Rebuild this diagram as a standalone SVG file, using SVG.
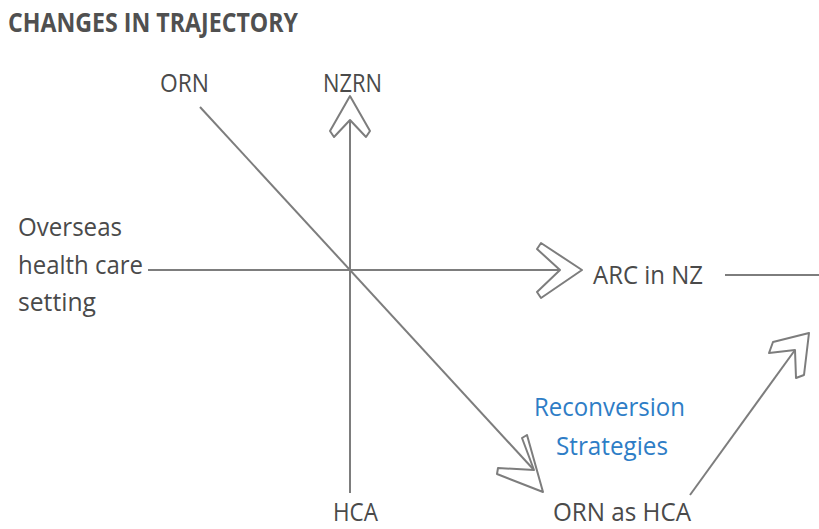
<svg xmlns="http://www.w3.org/2000/svg" width="819" height="529" viewBox="0 0 819 529">
<style>
text{font-family:"Open Sans","Noto Sans","DejaVu Sans",sans-serif;font-size:26px;fill:#4a4a4a}
.title{font-weight:bold;font-size:27px;fill:#505050}
.blue{fill:#2e7dc6}
.ln{stroke:#7d7d7d;stroke-width:2;fill:none}
.ah{stroke:#7d7d7d;stroke-width:2;fill:#fff;stroke-linejoin:round}
</style>
<rect width="819" height="529" fill="#fff"/>
<text class="title" x="8" y="32" textLength="290" lengthAdjust="spacingAndGlyphs">CHANGES IN TRAJECTORY</text>
<g id="connectors">
<line class="ln" x1="350" y1="120" x2="350" y2="493"/>
<line class="ln" x1="148" y1="270" x2="560" y2="270"/>
<line class="ln" x1="200" y1="107" x2="534" y2="470"/>
<line class="ln" x1="690" y1="495" x2="795" y2="350"/>
<line class="ln" x1="725" y1="275" x2="819" y2="275"/>
<polygon class="ah" points="350,96 370,131 366,137 350,120 334,137 330,131"/>
<polygon class="ah" points="582,270 541,243 537,249 560,270 537,292 541,298"/>
<polygon class="ah" points="543,492 527,435 522,438 534,470 498,468 497,474"/>
<polygon class="ah" points="809,333 773,342 769,353 795,350 796,378 804,375"/>
</g>
<g id="orn"><text x="160" y="92" textLength="49" lengthAdjust="spacingAndGlyphs">ORN</text></g>
<g id="nzrn"><text x="323" y="92" textLength="59" lengthAdjust="spacingAndGlyphs">NZRN</text></g>
<g id="overseas">
<text x="18" y="236" textLength="104" lengthAdjust="spacingAndGlyphs">Overseas</text>
<text x="18" y="274" textLength="125" lengthAdjust="spacingAndGlyphs">health care</text>
<text x="18" y="311" textLength="78" lengthAdjust="spacingAndGlyphs">setting</text>
</g>
<g id="arc"><text x="593" y="284" textLength="110" lengthAdjust="spacingAndGlyphs">ARC in NZ</text></g>
<g id="reconversion">
<text class="blue" x="534" y="416" textLength="151" lengthAdjust="spacingAndGlyphs">Reconversion</text>
<text class="blue" x="556" y="455" textLength="112" lengthAdjust="spacingAndGlyphs">Strategies</text>
</g>
<g id="hca"><text x="333" y="521" textLength="45" lengthAdjust="spacingAndGlyphs">HCA</text></g>
<g id="ornhca"><text x="553" y="521" textLength="138" lengthAdjust="spacingAndGlyphs">ORN as HCA</text></g>
</svg>
